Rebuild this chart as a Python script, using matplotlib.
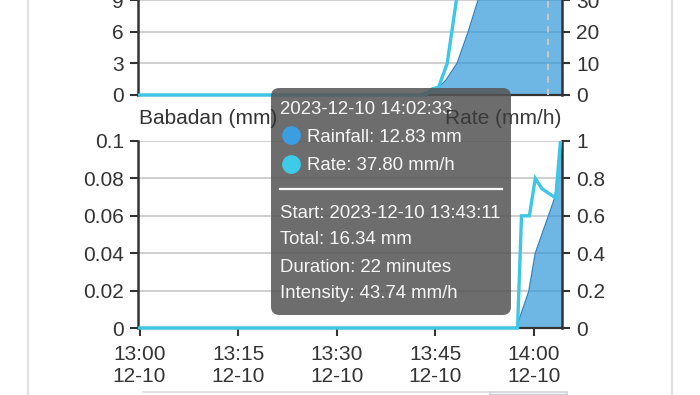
import matplotlib
matplotlib.use('Agg')
import matplotlib.pyplot as plt
from matplotlib.patches import FancyBboxPatch, Rectangle
from matplotlib.lines import Line2D
from matplotlib.transforms import Bbox, TransformedBbox

plt.rcParams['font.family'] = ['Liberation Sans', 'DejaVu Sans']

# ---- data (minutes after 13:00, 2023-12-10) ----
top_rain_t = [-0.3, 42.2, 44.0, 45.3, 46.6, 48.3, 50.0, 51.5, 53.0, 56.0, 60.0, 64.5]
top_rain_v = [0, 0, 0.3, 0.6, 1.4, 3.0, 6.0, 9.0, 10.8, 12.0, 12.7, 13.3]
top_rate_t = [-0.3, 43.5, 44.5, 45.5, 46.8, 47.5, 48.2, 48.9, 55.0, 64.5]
top_rate_v = [0, 0, 1.9, 2.5, 10, 20, 30, 40, 42, 38]

bot_rain_t = [-0.3, 57.3, 59.2, 60.2, 63.2, 64.5]
bot_rain_v = [0, 0, 0.0195, 0.04, 0.07, 0.11]
bot_rate_t = [-0.3, 57.5, 58.1, 59.3, 60.2, 61.2, 63.3, 64.5]
bot_rate_v = [0, 0, 0.6, 0.6, 0.8, 0.745, 0.695, 1.2]

x_ticks = [0, 15, 30, 45, 60]
x_tick_labels = ["13:00\n12-10", "13:15\n12-10", "13:30\n12-10", "13:45\n12-10", "14:00\n12-10"]
top_left_ticks = [0, 3, 6, 9]
top_right_ticks = [0, 10, 20, 30]
bot_left_ticks = [0, 0.02, 0.04, 0.06, 0.08, 0.1]
bot_left_labels = ["0", "0.02", "0.04", "0.06", "0.08", "0.1"]
bot_right_ticks = [0, 0.2, 0.4, 0.6, 0.8, 1]
bot_right_labels = ["0", "0.2", "0.4", "0.6", "0.8", "1"]
crosshair_min = 62.1

tooltip_title = "2023-12-10 14:02:33"
tooltip_series = ["Rainfall: 12.83 mm", "Rate: 37.80 mm/h"]
tooltip_lines = ["Start: 2023-12-10 13:43:11", "Total: 16.34 mm",
                 "Duration: 22 minutes", "Intensity: 43.74 mm/h"]

# ---- style ----
W, H = 700, 395
FILL = '#3097d8'
EDGE = '#2f86c2'
LINE = '#3ec6e6'
TXT = '#333333'
GRID = '#cccccc'
XLIM = (-0.23, 64.26)

fig = plt.figure(figsize=(W / 100, H / 100), dpi=100)

def fx(x):
    return x / W

def fy(y):
    return 1 - y / H


def make_panel(rect, rain_t, rain_v, rate_t, rate_v, lticks, llabels, rticks, rlabels, show_x):
    ax = fig.add_axes(rect)
    ax.set_xlim(*XLIM)
    ax.set_ylim(lticks[0], lticks[-1])
    ax.set_axisbelow(True)
    ax.yaxis.grid(True, color=GRID, lw=1.3)
    ax.fill_between(rain_t, rain_v, color=FILL, alpha=0.7, lw=0, zorder=2)
    ax.plot(rain_t, rain_v, color=EDGE, lw=1.0, zorder=3)
    ax.set_yticks(lticks)
    ax.set_yticklabels(llabels)
    for s in ['top', 'right']:
        ax.spines[s].set_visible(False)
    ax.spines['left'].set_color(TXT)
    ax.spines['left'].set_linewidth(1.8)
    ax.spines['bottom'].set_color(TXT)
    ax.spines['bottom'].set_linewidth(1.6)
    ax.tick_params(axis='y', colors=TXT, labelsize=15, length=6, width=1.5, pad=4)
    if show_x:
        ax.set_xticks(x_ticks)
        ax.set_xticklabels(x_tick_labels, linespacing=1.2)
        ax.tick_params(axis='x', colors=TXT, labelsize=15, length=6, width=1.5, pad=6)
    else:
        ax.set_xticks([])

    tw = ax.twinx()
    tw.set_ylim(rticks[0], rticks[-1])
    tw.set_yticks(rticks)
    tw.set_yticklabels(rlabels)
    for s in ['top', 'left', 'bottom']:
        tw.spines[s].set_visible(False)
    tw.spines['right'].set_color(TXT)
    tw.spines['right'].set_linewidth(1.8)
    tw.tick_params(axis='y', colors=TXT, labelsize=15, length=6, width=1.5, pad=4)
    ln, = tw.plot(rate_t, rate_v, color=LINE, lw=2.4, solid_joinstyle='miter', zorder=4)
    ln.set_clip_box(TransformedBbox(Bbox([[0, -0.05], [1, 1]]), tw.transAxes))
    return ax, tw


ax1, tw1 = make_panel([fx(138), fy(95), (562 - 138) / W, 95 / H],
                      top_rain_t, top_rain_v, top_rate_t, top_rate_v,
                      top_left_ticks, [str(v) for v in top_left_ticks],
                      top_right_ticks, [str(v) for v in top_right_ticks], False)
tw1.axvline(crosshair_min, color='#c8c8c8', lw=1.5, ls=(0, (3, 3)), zorder=5)

ax2, tw2 = make_panel([fx(138), fy(328), (562 - 138) / W, (328 - 141) / H],
                      bot_rain_t, bot_rain_v, bot_rate_t, bot_rate_v,
                      bot_left_ticks, bot_left_labels,
                      bot_right_ticks, bot_right_labels, True)

# page frame decorations
for xx in (28, 672):
    fig.add_artist(Line2D([fx(xx), fx(xx)], [0, 1], color='#e2e2e2', lw=1.6, transform=fig.transFigure))
fig.add_artist(Line2D([fx(143), fx(567)], [fy(392), fy(392)], color='#dddddd', lw=1.2, transform=fig.transFigure))
fig.add_artist(Rectangle((fx(490), 0), fx(567) - fx(490), fy(392), transform=fig.transFigure,
                         facecolor='#eef1f5', edgecolor='#c9ccd0', lw=1.2))

# tooltip
box = FancyBboxPatch((fx(271), fy(315)), fx(511) - fx(271), fy(88) - fy(315),
                     boxstyle="round,pad=0,rounding_size=0.012", mutation_aspect=W / H,
                     transform=fig.transFigure, facecolor='#555555', edgecolor='none',
                     alpha=0.86, zorder=20)
fig.add_artist(box)
TT = dict(fontsize=13.4, color='#f7f7f7', ha='left', va='center', zorder=21)
fig.text(fx(280), fy(110), tooltip_title, **TT)
for i, (lab, col) in enumerate(zip(tooltip_series, ['#3a9ee0', '#3ecbea'])):
    y = 135 + i * 28.5
    fig.add_artist(Line2D([fx(291)], [fy(y)], marker='o', markersize=13.5, color=col,
                          markeredgewidth=0, transform=fig.transFigure, zorder=21))
    fig.text(fx(307), fy(y + 2), lab, **TT)
fig.add_artist(Line2D([fx(280), fx(502)], [fy(189), fy(189)], color='#f7f7f7', lw=1.6,
                      transform=fig.transFigure, zorder=21))
for i, lab in enumerate(tooltip_lines):
    fig.text(fx(280), fy(213 + i * 27), lab, **TT)

# axis titles (drawn over the tooltip, as in the reference)
fig.text(fx(139), fy(118), "Babadan (mm)", ha='left', va='center', fontsize=15, color=TXT, zorder=22)
fig.text(fx(561), fy(118), "Rate (mm/h)", ha='right', va='center', fontsize=15, color='#3a3a3a', zorder=22)

fig.savefig('out.png', dpi=100)
